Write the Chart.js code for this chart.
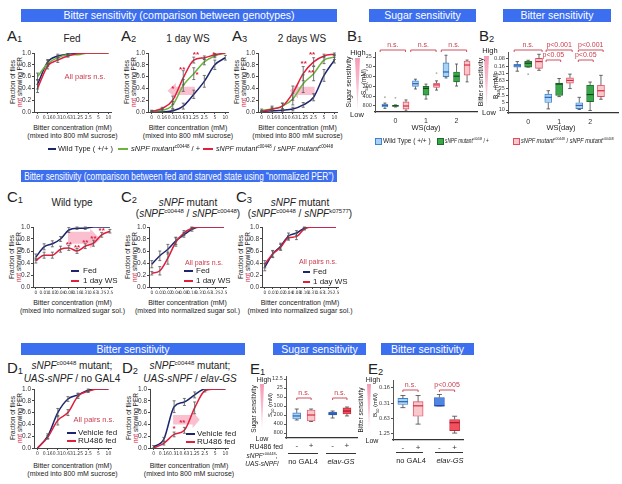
<!DOCTYPE html>
<html>
<head>
<meta charset="utf-8">
<script src="https://cdn.jsdelivr.net/npm/chart.js@4.4.1/dist/chart.umd.min.js"></script>
<style>
  body { margin: 0; width: 622px; height: 484px; position: relative; overflow: hidden; background: #fff;
         font-family: "Liberation Sans", Arial, sans-serif; }
  .t { position: absolute; white-space: nowrap; color: #222; line-height: 1; }
  .hd { position: absolute; background: #3c6ef0; color: #fff; font-size: 10.5px; overflow: hidden; white-space: nowrap; }
  .hd span { position: absolute; left: 50%; top: 0; white-space: nowrap; }
  canvas { position: absolute; }
  sup { font-size: 60%; vertical-align: super; line-height: 0; }
  sub { font-size: 65%; vertical-align: sub; line-height: 0; }
  .pl sub { font-size: 62%; vertical-align: -0.15em; }
</style>
</head>
<body>
<script>
// ---------- data ----------
const bitterConc = ['0', '0.16', '0.31', '0.63', '1.25', '2.5', '5', '10'];
const normConc = ['0', '0.01', '0.02', '0.04', '0.08', '0.16', '0.31', '0.63', '1.25', '2.5'];

// A1 fed
const a1Wt = [0.47, 0.85, 0.95, 0.98, 0.99, 1, 1, 1];
const a1WtErr = [0.08, 0.04, 0.03, 0.01, 0, 0, 0, 0];
const a1Het = [0.6, 0.82, 0.92, 0.97, 0.97, 1, 1, 1];
const a1HetErr = [0.06, 0.05, 0.03, 0.02, 0, 0, 0, 0];
const a1Hom = [0.4, 0.78, 0.88, 0.95, 0.99, 1, 1, 1];
const a1HomErr = [0.07, 0.05, 0.04, 0.02, 0, 0, 0, 0];
// A2 1 day WS
const a2Wt = [0, 0, 0.02, 0.1, 0.3, 0.52, 0.8, 0.92];
const a2WtErr = [0, 0, 0.02, 0.05, 0.07, 0.1, 0.08, 0.04];
const a2Het = [0.02, 0.03, 0.12, 0.45, 0.65, 0.85, 0.95, 1];
const a2HetErr = [0.01, 0.02, 0.06, 0.1, 0.1, 0.05, 0.03, 0];
const a2Hom = [0.01, 0.06, 0.2, 0.58, 0.88, 0.92, 0.97, 1];
const a2HomErr = [0.01, 0.02, 0.07, 0.12, 0.05, 0.03, 0.02, 0];
// A3 2 days WS
const a3Wt = [0.01, 0.02, 0.03, 0.05, 0.12, 0.25, 0.62, 0.88];
const a3WtErr = [0.01, 0.02, 0.02, 0.03, 0.04, 0.06, 0.1, 0.05];
const a3Het = [0.03, 0.05, 0.1, 0.22, 0.48, 0.65, 0.88, 0.93];
const a3HetErr = [0.02, 0.05, 0.05, 0.1, 0.15, 0.12, 0.06, 0.04];
const a3Hom = [0.01, 0.05, 0.1, 0.32, 0.65, 0.85, 0.95, 0.98];
const a3HomErr = [0.01, 0.03, 0.05, 0.12, 0.12, 0.07, 0.03, 0.02];

// C normalized PER, fed vs 1 day WS
const c1Fed = [0.5, 0.67, 0.72, 0.8, 0.95, 0.98, 0.98, 1, 1, 1];
const c1FedErr = [0.05, 0.05, 0.05, 0.04, 0.04, 0.02, 0.02, 0, 0, 0];
const c1Ws = [0.44, 0.53, 0.53, 0.63, 0.65, 0.6, 0.68, 0.73, 0.87, 0.93];
const c1WsErr = [0.04, 0.05, 0.05, 0.05, 0.04, 0.04, 0.04, 0.05, 0.04, 0.03];
const c2Fed = [0.38, 0.52, 0.63, 0.77, 0.87, 0.96, 1, 1, 1, 1];
const c2FedErr = [0.06, 0.08, 0.08, 0.06, 0.04, 0.03, 0, 0, 0, 0];
const c2Ws = [0.23, 0.27, 0.48, 0.75, 0.9, 0.98, 1, 1, 1, 1];
const c2WsErr = [0.03, 0.07, 0.1, 0.07, 0.04, 0.02, 0, 0, 0, 0];
const c3Fed = [0.33, 0.55, 0.68, 0.85, 0.9, 0.98, 1, 1, 1, 1];
const c3FedErr = [0.06, 0.06, 0.05, 0.05, 0.04, 0.02, 0, 0, 0, 0];
const c3Ws = [0.38, 0.55, 0.66, 0.82, 0.84, 0.97, 1, 1, 1, 1];
const c3WsErr = [0.06, 0.05, 0.05, 0.04, 0.05, 0.02, 0, 0, 0, 0];

// D vehicle vs RU486
const d1Veh = [0, 0.2, 0.6, 0.83, 0.9, 0.98, 1, 1];
const d1VehErr = [0, 0.04, 0.07, 0.04, 0.03, 0.02, 0, 0];
const d1Ru = [0, 0.18, 0.47, 0.6, 0.88, 0.96, 1, 1];
const d1RuErr = [0, 0.03, 0.08, 0.05, 0.04, 0.02, 0, 0];
const d2Veh = [0.02, 0.15, 0.7, 0.78, 0.9, 1, 1, 1];
const d2VehErr = [0.02, 0.03, 0.1, 0.06, 0.05, 0, 0, 0];
const d2Ru = [0, 0.08, 0.23, 0.3, 0.68, 0.97, 1, 1];
const d2RuErr = [0, 0.03, 0.04, 0.05, 0.1, 0.02, 0, 0];

// B boxes: [lower whisker, q1, median, q3, upper whisker]
const wsDays = ['0', '1', '2'];
const b1Wt = [[650, 700, 780, 860, 950], [120, 135, 165, 200, 240], [22, 38, 72, 100, 110]];
const b1Het = [[740, 760, 790, 830, 860], [170, 200, 230, 370, 490], [41, 72, 97, 145, 195]];
const b1Hom = [[520, 600, 800, 1000, 1140], [135, 160, 180, 215, 260], [31, 33, 44, 90, 145]];
const b1WtOut = [[0, 430]];
const b1HetOut = [[0, 450]];
const b1HomOut = [[1, 78]];
const s50Ticks = [25, 50, 100, 200, 400, 800];
const b2Wt = [[0.1, 0.13, 0.15, 0.17, 0.25], [1.6, 2.2, 3.0, 4.9, 9], [3.0, 5, 6.5, 8.8, 9.5]];
const b2Het = [[0.088, 0.097, 0.117, 0.17, 0.17], [0.5, 0.78, 0.85, 2.5, 2.8], [0.7, 0.95, 2.3, 4.5, 10.5]];
const b2Hom = [[0.05, 0.074, 0.1, 0.19, 0.23], [0.33, 0.47, 0.6, 0.78, 1.3], [0.37, 0.95, 1.6, 2.8, 3.6]];
const b2HetOut = [[0, 0.33]];
const b50Ticks = [0.078, 0.156, 0.3125, 0.625, 1.25, 2.5, 5, 10];
const b50Labels = ['0.08', '0.16', '0.31', '0.63', '1.25', '2.5', '5', '10'];

// E boxes: no GAL4 -, no GAL4 +, elav-GS -, elav-GS +
const ruFed = ['-', '+', '-', '+'];
const e1Boxes = [[126, 170, 215, 272, 294], [126, 136, 200, 318, 330], [147, 160, 185, 200, 252], [108, 116, 147, 185, 215]];
const e1Ticks = [12.5, 25, 50, 100, 200, 400, 800];
const e2Boxes = [[0.22, 0.25, 0.29, 0.33, 0.38], [0.22, 0.29, 0.35, 0.56, 0.8], [0.21, 0.24, 0.35, 0.35, 0.35], [0.56, 0.65, 0.75, 1.07, 1.2]];
const e2Ticks = [0.156, 0.3125, 0.625, 1.25];
const e2Labels = ['0.16', '0.31', '0.63', '1.25'];

// ---------- styles ----------
const NAVY = '#1e2570', GREEN = '#6cb33c', RED = '#e01f3d', SIG = '#c8404f';
const PINK = 'rgba(245,140,168,0.55)';
const LBLUE = '#a9d3f4', LBLUE_L = '#3f80d0', GRN = '#3aa84a', GRN_L = '#1d6b2a', LPINK = '#f9c8cc', LPINK_L = '#e44b5e';
const BLUE = '#4f86e6', BLUE_L = '#2b5cb8', RED2 = '#f2505f', RED2_L = '#c8283a';
const NARROW = '"Liberation Sans Narrow", "DejaVu Sans Condensed", "Liberation Sans", sans-serif';

Chart.defaults.font.family = '"Liberation Sans", Arial, sans-serif';
Chart.defaults.color = '#333';

// ---------- html helpers ----------
function P(x, y, html, size, o = {}) {
  const d = document.createElement('div');
  d.className = 't' + (o.cls ? ' ' + o.cls : '');
  d.innerHTML = html;
  d.style.fontSize = size + 'px';
  if (o.color) d.style.color = o.color;
  if (o.it) d.style.fontStyle = 'italic';
  d.style.left = x + 'px'; d.style.top = y + 'px';
  document.body.appendChild(d);
  if (o.rot) {
    d.style.transform = 'translate(-50%,-50%) rotate(-90deg)';
    return d;
  }
  const a = o.a || 'c';
  const sx = o.w ? o.w / d.offsetWidth : 1;
  d.style.transformOrigin = a === 'c' ? '50% 50%' : a === 'r' ? '100% 50%' : '0 50%';
  d.style.transform = `translate(${a === 'c' ? '-50%' : a === 'r' ? '-100%' : '0'},-50%) scaleX(${sx})`;
  return d;
}
function BAR(x1, x2, y1, y2, text) {
  const d = document.createElement('div');
  d.className = 'hd';
  Object.assign(d.style, { left: x1 + 'px', top: y1 + 'px', width: (x2 - x1) + 'px', height: (y2 - y1) + 'px', lineHeight: (y2 - y1) + 'px' });
  const s = document.createElement('span');
  s.textContent = text;
  d.appendChild(s);
  document.body.appendChild(d);
  const room = x2 - x1 - 6;
  const k = Math.min(1, room / s.offsetWidth);
  s.style.transform = `translateX(-50%) scaleX(${k})`;
}
function LN(x1, x2, y, color, w = 2) {
  const d = document.createElement('div');
  Object.assign(d.style, { position: 'absolute', left: x1 + 'px', top: (y - w / 2) + 'px', width: (x2 - x1) + 'px', height: w + 'px', background: color });
  document.body.appendChild(d);
}
function SQ(x, y, fill, line) {
  const d = document.createElement('div');
  Object.assign(d.style, { position: 'absolute', left: x + 'px', top: (y - 3.5) + 'px', width: '5px', height: '5px', background: fill, border: '1px solid ' + line });
  document.body.appendChild(d);
}
function WEDGE(x, y, w, h) {
  const d = document.createElement('div');
  Object.assign(d.style, { position: 'absolute', left: x + 'px', top: y + 'px', width: w + 'px', height: h + 'px',
    background: 'linear-gradient(#f59ab4, #fde4ec)', clipPath: 'polygon(0 0,100% 0,50% 100%)' });
  document.body.appendChild(d);
}
function canvasAt(x, y, w, h) {
  const c = document.createElement('canvas');
  c.width = w; c.height = h;
  c.style.left = x + 'px'; c.style.top = y + 'px';
  document.body.appendChild(c);
  return c;
}

// ---------- plugins ----------
function extras(ex) {
  return {
    id: 'extras',
    beforeDatasetsDraw(chart) {
      const { ctx, scales: { x, y } } = chart;
      (ex.shapes || []).forEach(pts => {
        ctx.save();
        ctx.fillStyle = PINK;
        ctx.beginPath();
        pts.forEach(([a, b], i) => {
          const px = x.getPixelForValue(a), py = y.getPixelForValue(b);
          if (i) ctx.lineTo(px, py); else ctx.moveTo(px, py);
        });
        ctx.closePath();
        ctx.fill();
        ctx.restore();
      });
    },
    afterDatasetsDraw(chart) {
      const { ctx, scales: { x, y } } = chart;
      ctx.save();
      ctx.strokeStyle = '#555';
      ctx.lineWidth = 0.8;
      chart.data.datasets.forEach(ds => {
        (ds.err || []).forEach((e, i) => {
          if (!e) return;
          const v = ds.data[i].y, px = x.getPixelForValue(i);
          const y1 = y.getPixelForValue(v + e), y2 = y.getPixelForValue(Math.max(0, v - e));
          ctx.beginPath();
          ctx.moveTo(px, y1); ctx.lineTo(px, y2);
          ctx.moveTo(px - 1.5, y1); ctx.lineTo(px + 1.5, y1);
          ctx.moveTo(px - 1.5, y2); ctx.lineTo(px + 1.5, y2);
          ctx.stroke();
        });
      });
      ctx.fillStyle = RED;
      ctx.font = 'bold 8px "Liberation Sans", Arial, sans-serif';
      ctx.textAlign = 'center';
      ctx.textBaseline = 'middle';
      (ex.stars || []).forEach(([a, b, s]) => ctx.fillText(s, x.getPixelForValue(a), y.getPixelForValue(b)));
      ctx.restore();
    }
  };
}
function boxPlugin(brackets) {
  return {
    id: 'boxes',
    afterDatasetsDraw(chart) {
      const { ctx, scales: { x, y }, chartArea } = chart;
      const py = v => y.getPixelForValue(v);
      ctx.save();
      chart.data.datasets.forEach((ds, di) => {
        chart.getDatasetMeta(di).data.forEach((el, i) => {
          const q = ds.box[i], w = el.width, cx = el.x;
          ctx.strokeStyle = '#444';
          ctx.lineWidth = 0.8;
          ctx.beginPath();
          ctx.moveTo(cx, py(q[0])); ctx.lineTo(cx, py(q[1]));
          ctx.moveTo(cx, py(q[3])); ctx.lineTo(cx, py(q[4]));
          ctx.moveTo(cx - w * 0.25, py(q[0])); ctx.lineTo(cx + w * 0.25, py(q[0]));
          ctx.moveTo(cx - w * 0.25, py(q[4])); ctx.lineTo(cx + w * 0.25, py(q[4]));
          ctx.stroke();
          ctx.strokeStyle = Array.isArray(ds.med) ? ds.med[i] : ds.med;
          ctx.lineWidth = 1.2;
          ctx.beginPath();
          ctx.moveTo(cx - w / 2, py(q[2])); ctx.lineTo(cx + w / 2, py(q[2]));
          ctx.stroke();
        });
        ctx.fillStyle = '#aaa';
        (ds.out || []).forEach(([xv, v]) => {
          ctx.beginPath();
          ctx.arc(x.getPixelForValue(xv), py(v), 0.9, 0, 7);
          ctx.fill();
        });
      });
      ctx.strokeStyle = SIG;
      ctx.fillStyle = SIG;
      ctx.lineWidth = 0.9;
      ctx.font = '7px "Liberation Sans", Arial, sans-serif';
      ctx.textAlign = 'center';
      ctx.textBaseline = 'bottom';
      brackets.forEach(bk => {
        const x1 = x.getPixelForValue(bk.x1), x2 = x.getPixelForValue(bk.x2), yy = chartArea.top + bk.dy;
        ctx.beginPath();
        ctx.moveTo(x1, yy + 2); ctx.lineTo(x1, yy); ctx.lineTo(x2, yy); ctx.lineTo(x2, yy + 2);
        ctx.stroke();
        ctx.fillText(bk.t, (x1 + x2) / 2, yy - 1);
      });
      ctx.restore();
    }
  };
}

// ---------- chart builders ----------
function lineChart(box, labels, series, ex) {
  const [l, t, r, b] = box;
  const YW = 16, PT = 7, PR = 6, XH = 10;
  const c = canvasAt(l - YW, t - PT, r - l + YW + PR, b - t + PT + XH);
  new Chart(c, {
    type: 'line',
    data: {
      datasets: series.map(s => ({
        data: s.v.map((v, i) => ({ x: i, y: v })), err: s.e,
        borderColor: s.c, borderWidth: 1.5, pointRadius: 0,
        cubicInterpolationMode: 'monotone', fill: false
      }))
    },
    options: {
      responsive: false, animation: false,
      layout: { padding: { top: PT, right: PR, left: 0, bottom: 0 } },
      plugins: { legend: { display: false }, tooltip: { enabled: false } },
      scales: {
        x: {
          type: 'linear', min: -0.35, max: labels.length - 0.75,
          afterBuildTicks: s => { s.ticks = labels.map((_, i) => ({ value: i })); },
          afterFit: s => { s.height = XH; },
          ticks: { callback: v => labels[v], font: { size: labels.length > 8 ? 4.6 : 5, family: NARROW }, padding: 1, maxRotation: 0, autoSkip: false },
          grid: { drawOnChartArea: false, tickLength: 2, color: '#444' },
          border: { color: '#444' }
        },
        y: {
          min: 0, max: 1,
          afterBuildTicks: s => { s.ticks = [0, 0.2, 0.4, 0.6, 0.8, 1].map(v => ({ value: v })); },
          afterFit: s => { s.width = YW; },
          ticks: { callback: v => v.toFixed(1), font: { size: 6.5 }, padding: 1 },
          grid: { drawOnChartArea: false, tickLength: 2, color: '#444' },
          border: { color: '#444' }
        }
      }
    },
    plugins: [extras(ex || {})]
  });
}

function boxChart(box, o) {
  const [l, t, r, b] = box;
  const YW = 20, PT = 14, PR = 4, XH = o.xh;
  const c = canvasAt(l - YW, t - PT, r - l + YW + PR, b - t + PT + XH);
  new Chart(c, {
    type: 'bar',
    data: {
      datasets: o.sets.map(s => ({
        data: s.b.map((q, i) => ({ x: s.x[i], y: [q[1], q[3]] })),
        box: s.b, out: s.out || [], med: s.med,
        backgroundColor: s.fill, borderColor: s.line, borderWidth: 0.9, borderSkipped: false,
        barThickness: o.bw, grouped: false
      }))
    },
    options: {
      responsive: false, animation: false,
      layout: { padding: { top: PT, right: PR, left: 0, bottom: 0 } },
      plugins: { legend: { display: false }, tooltip: { enabled: false } },
      scales: {
        x: {
          type: 'linear', offset: false, min: o.xmin, max: o.xmax,
          afterBuildTicks: s => { s.ticks = o.xt.map(v => ({ value: v })); },
          afterFit: s => { s.height = XH; },
          ticks: { callback: (v, i) => o.xl[i], font: { size: o.xfs }, padding: o.xpad, maxRotation: 0, autoSkip: false },
          grid: { drawOnChartArea: false, drawTicks: false },
          border: { color: '#333', width: 1.2 }
        },
        y: {
          type: 'logarithmic', reverse: true, min: o.ymin, max: o.ymax,
          afterBuildTicks: s => { s.ticks = o.yt.map(v => ({ value: v })); },
          afterFit: s => { s.width = YW; },
          ticks: { callback: (v, i) => o.yl[i], font: { size: 5.5, family: NARROW }, padding: 1, autoSkip: false },
          grid: { drawOnChartArea: false, tickLength: 2, color: '#555' },
          border: { color: '#555' }
        }
      }
    },
    plugins: [boxPlugin(o.br || [])]
  });
}

// ---------- headers ----------
BAR(21, 337, 9, 22, 'Bitter sensitivity (comparison between genotypes)');
BAR(369, 476, 9, 22, 'Sugar sensitivity');
BAR(503, 611, 9, 22, 'Bitter sensitivity');
BAR(21, 337, 170, 182, 'Bitter sensitivity (comparison between fed and starved state using \u201cnormalized PER\u201d)');
BAR(21, 245, 343, 355, 'Bitter sensitivity');
BAR(273, 366, 343, 355, 'Sugar sensitivity');
BAR(381, 474, 343, 355, 'Bitter sensitivity');

// panel labels
[['A', 1, 7, 35], ['A', 2, 121, 35], ['A', 3, 232, 35], ['B', 1, 347, 35], ['B', 2, 479, 35],
 ['C', 1, 7, 196], ['C', 2, 121, 196], ['C', 3, 236, 196],
 ['D', 1, 7, 367], ['D', 2, 122, 367], ['E', 1, 250, 368], ['E', 2, 368, 368]]
  .forEach(([a, n, x, y]) => P(x, y, a + '<sub>' + n + '</sub>', 15, { a: 'l', cls: 'pl' }));

const NOT = '<span style="color:#d0213a">not</span> showing PER';
function yTitle(l, cy) {
  P(l - 21, cy, 'Fraction of flies', 6.5, { rot: 1 });
  P(l - 14.5, cy, NOT, 6.5, { rot: 1 });
}
function xTitle(l, r, y, second) {
  P((l + r) / 2, y, 'Bitter concentration (mM)', 7);
  P((l + r) / 2, y + 7.5, second, 7);
}

// ---------- A ----------
P(72, 39, 'Fed', 10);
P(188, 39, '1 day WS', 10);
P(302, 39, '2 days WS', 10);
[[34, 111], [148, 228], [258, 337]].forEach(([l, r]) => {
  yTitle(l, 82);
  xTitle(l, r, 127, '(mixed into 800 mM sucrose)');
});
lineChart([34, 53, 111, 112], bitterConc, [
  { v: a1Hom, e: a1HomErr, c: RED }, { v: a1Het, e: a1HetErr, c: GREEN }, { v: a1Wt, e: a1WtErr, c: NAVY }]);
lineChart([148, 53, 228, 112], bitterConc, [
  { v: a2Hom, e: a2HomErr, c: RED }, { v: a2Het, e: a2HetErr, c: GREEN }, { v: a2Wt, e: a2WtErr, c: NAVY }], {
  shapes: [[[1.5, 0.36], [2.3, 0.49], [2.3, 0.43], [4.1, 0.43], [4.1, 0.29], [2.3, 0.29], [2.3, 0.23]]],
  stars: [[4.2, 0.97, '**'], [5.9, 0.97, '*'], [2.9, 0.72, '**'], [2.0, 0.4, '*'], [4.3, 0.63, '*']]
});
lineChart([258, 53, 337, 112], bitterConc, [
  { v: a3Hom, e: a3HomErr, c: RED }, { v: a3Het, e: a3HetErr, c: GREEN }, { v: a3Wt, e: a3WtErr, c: NAVY }], {
  shapes: [[[2.7, 0.36], [3.5, 0.49], [3.5, 0.43], [5.1, 0.43], [5.1, 0.29], [3.5, 0.29], [3.5, 0.23]]],
  stars: [[4.85, 0.97, '**'], [4.05, 0.81, '**'], [4.75, 0.66, '**']]
});
P(85, 77, 'All pairs n.s.', 7.5, { color: SIG });
LN(48, 56, 149, NAVY); P(58, 149, 'Wild Type ( +/+ )', 7.5, { a: 'l' });
LN(118, 128, 149, GREEN); P(131, 149, '<i>sNPF mutant</i><sup>c00448</sup> / +', 7.5, { a: 'l' });
LN(203, 213, 149, RED); P(216, 149, '<i>sNPF mutant</i><sup>c00448</sup> / <i>sNPF mutant</i><sup>c00448</sup>', 7.5, { a: 'l', w: 117 });

// ---------- B ----------
const b1Off = 0.345, b2Off = 0.35;
boxChart([375, 52, 477, 112], {
  xh: 14, xfs: 7, xpad: 5, bw: 6,
  xmin: -0.67, xmax: 2.67, xt: [0, 1, 2], xl: wsDays,
  ymin: 17.5, ymax: 1224, yt: s50Ticks, yl: s50Ticks.map(String),
  sets: [
    { b: b1Wt, x: wsDays.map((_, i) => i - b1Off), out: b1WtOut.map(([c, v]) => [c - b1Off, v]), fill: LBLUE, line: LBLUE_L, med: '#2d62b0' },
    { b: b1Het, x: wsDays.map((_, i) => i), out: b1HetOut, fill: GRN, line: GRN_L, med: '#0f4a1a' },
    { b: b1Hom, x: wsDays.map((_, i) => i + b1Off), out: b1HomOut.map(([c, v]) => [c + b1Off, v]), fill: LPINK, line: LPINK_L, med: '#d42a40' }
  ],
  br: wsDays.map((_, i) => ({ x1: i - 0.5, x2: i + 0.33, dy: -2, t: 'n.s.' }))
});
boxChart([508, 52, 618, 113], {
  xh: 14, xfs: 7, xpad: 5, bw: 7,
  xmin: -0.65, xmax: 2.9, xt: [0, 1, 2], xl: wsDays,
  ymin: 0.0402, ymax: 13.3, yt: b50Ticks, yl: b50Labels,
  sets: [
    { b: b2Wt, x: wsDays.map((_, i) => i - b2Off), fill: LBLUE, line: LBLUE_L, med: '#2d62b0' },
    { b: b2Het, x: wsDays.map((_, i) => i), out: b2HetOut, fill: GRN, line: GRN_L, med: '#0f4a1a' },
    { b: b2Hom, x: wsDays.map((_, i) => i + b2Off), fill: LPINK, line: LPINK_L, med: '#d42a40' }
  ],
  br: [
    { x1: -0.45, x2: 0.45, dy: -2, t: 'n.s.' },
    { x1: 0.58, x2: 1.42, dy: -2, t: 'p<0.001' }, { x1: 0.58, x2: 1.05, dy: 8, t: 'p<0.05' },
    { x1: 1.62, x2: 2.42, dy: -2, t: 'p<0.001' }, { x1: 1.62, x2: 2.1, dy: 8, t: 'p<0.05' }
  ]
});
P(358, 53, 'High', 7.5); P(357, 115, 'Low', 7.5); WEDGE(355, 58, 5, 52);
P(348, 82, 'Sugar sensitivity', 7, { rot: 1 });
P(364, 82, 'S<sub>50</sub> (mM)', 6.5, { rot: 1 });
P(490, 51, 'High', 7.5); P(489, 113, 'Low', 7.5); WEDGE(484, 56, 5, 52);
P(480, 82, 'Bitter sensitivity', 7, { rot: 1 });
P(496, 86, 'B<sub>50</sub> (mM)', 6.5, { rot: 1 });
P(426, 128, 'WS(day)', 7.5);
P(561, 128, 'WS(day)', 7.5);
SQ(375, 141, LBLUE, LBLUE_L); P(383, 141, 'Wild Type ( +/+ )', 6.5, { a: 'l' });
SQ(437, 141, GRN, GRN_L); P(445, 141, '<i>sNPF mutant</i><sup>c00448</sup> / +', 6.5, { a: 'l', w: 44 });
SQ(513, 141, LPINK, LPINK_L); P(521, 141, '<i>sNPF mutant</i><sup>c00448</sup> / <i>sNPF mutant</i><sup>c00448</sup>', 6.5, { a: 'l', w: 93 });

// ---------- C ----------
P(72, 203, 'Wild type', 10);
P(188, 203, '<i>sNPF</i> mutant', 10);
P(188, 214, '(<i>sNPF</i><sup>c00448</sup> / <i>sNPF</i><sup>c00448</sup>)', 10);
P(300, 203, '<i>sNPF</i> mutant', 10);
P(300, 214, '(<i>sNPF</i><sup>c00448</sup> / <i>sNPF</i><sup>k07577</sup>)', 10);
[[33, 112], [149, 226], [262, 338]].forEach(([l, r]) => {
  yTitle(l, 257);
  xTitle(l, r, 302, '(mixed into normalized sugar sol.)');
});
lineChart([33, 227, 112, 287], normConc, [
  { v: c1Ws, e: c1WsErr, c: RED }, { v: c1Fed, e: c1FedErr, c: NAVY }], {
  shapes: [[[3.9, 0.92], [6.6, 0.92], [6.6, 0.97], [7.8, 0.8], [6.6, 0.64], [6.6, 0.72], [3.9, 0.72]]],
  stars: [[4, 0.71, '**'], [5, 0.66, '**'], [6, 0.74, '**'], [7, 0.8, '**'], [8, 0.93, '**']]
});
lineChart([149, 227, 226, 287], normConc, [
  { v: c2Ws, e: c2WsErr, c: RED }, { v: c2Fed, e: c2FedErr, c: NAVY }]);
lineChart([262, 227, 338, 287], normConc, [
  { v: c3Ws, e: c3WsErr, c: RED }, { v: c3Fed, e: c3FedErr, c: NAVY }]);
LN(71, 79, 271, NAVY); P(83, 271, 'Fed', 8, { a: 'l' });
LN(71, 79, 281, RED); P(83, 281, '1 day WS', 8, { a: 'l' });
P(204, 262, 'All pairs n.s.', 7, { color: SIG });
LN(184, 193, 271, NAVY); P(196, 271, 'Fed', 8, { a: 'l' });
LN(184, 193, 281, RED); P(196, 281, '1 day WS', 8, { a: 'l' });
P(318, 261, 'All pairs n.s.', 7, { color: SIG });
LN(303, 310, 272, NAVY); P(313, 272, 'Fed', 8, { a: 'l' });
LN(303, 310, 282, RED); P(313, 282, '1 day WS', 8, { a: 'l' });

// ---------- D ----------
P(72, 366, '<i>sNPF</i><sup>c00448</sup> mutant;', 10);
P(72, 379, '<i>UAS-sNPF</i> / no GAL4', 10);
P(190, 366, '<i>sNPF</i><sup>c00448</sup> mutant;', 10);
P(190, 379, '<i>UAS-sNPF</i> / <i>elav-GS</i>', 10);
[[34, 111], [150, 228]].forEach(([l, r]) => {
  yTitle(l, 418);
  xTitle(l, r, 465, '(mixed into 800 mM sucrose)');
});
lineChart([34, 389, 111, 448], bitterConc, [
  { v: d1Ru, e: d1RuErr, c: RED }, { v: d1Veh, e: d1VehErr, c: NAVY }]);
lineChart([150, 389, 228, 448], bitterConc, [
  { v: d2Ru, e: d2RuErr, c: RED }, { v: d2Veh, e: d2VehErr, c: NAVY }], {
  shapes: [[[1.9, 0.56], [3.8, 0.56], [3.8, 0.62], [4.5, 0.48], [3.8, 0.34], [3.8, 0.4], [1.9, 0.4]]],
  stars: [[2.0, 0.33, '*'], [2.8, 0.42, '**']]
});
P(94, 420, 'All pairs n.s.', 7.5, { color: SIG });
LN(67, 76, 433, NAVY); P(78, 433, 'Vehicle fed', 8, { a: 'l' });
LN(67, 76, 441, RED); P(78, 441, 'RU486 fed', 8, { a: 'l' });
LN(186, 195, 434, NAVY); P(197, 434, 'Vehicle fed', 8, { a: 'l' });
LN(186, 195, 442, RED); P(197, 442, 'RU486 fed', 8, { a: 'l' });

// ---------- E ----------
const e1X = [0, 1, 2.5, 3.5], e2X = [0, 1, 2.4, 3.4];
boxChart([286, 376, 357, 438], {
  xh: 12, xfs: 8, xpad: 3, bw: 8,
  xmin: -0.75, xmax: 4.2, xt: e1X, xl: ruFed,
  ymin: 9.92, ymax: 1174, yt: e1Ticks, yl: e1Ticks.map(String),
  sets: [{ b: e1Boxes, x: e1X, fill: [LBLUE, LPINK, BLUE, RED2], line: [LBLUE_L, LPINK_L, BLUE_L, RED2_L], med: ['#2d62b0', '#d42a40', '#1d4aa0', '#a01828'] }],
  br: [{ x1: 0, x2: 1, dy: 22, t: 'n.s.' }, { x1: 2.5, x2: 3.5, dy: 22, t: 'n.s.' }]
});
boxChart([393, 380, 463, 440], {
  xh: 12, xfs: 8, xpad: 3, bw: 10,
  xmin: -0.65, xmax: 3.95, xt: e2X, xl: ruFed,
  ymin: 0.109, ymax: 1.64, yt: e2Ticks, yl: e2Labels,
  sets: [{ b: e2Boxes, x: e2X, fill: [LBLUE, LPINK, BLUE, RED2], line: [LBLUE_L, LPINK_L, BLUE_L, RED2_L], med: ['#2d62b0', '#d42a40', '#1d4aa0', '#a01828'] }],
  br: [{ x1: 0, x2: 1, dy: 10, t: 'n.s.' }, { x1: 2.4, x2: 3.4, dy: 10, t: 'p<0.005' }]
});
P(264, 379, 'High', 7); P(262, 438, 'Low', 7); WEDGE(260, 384, 4, 46);
P(254, 409, 'Sugar sensitivity', 6.5, { rot: 1 });
P(270, 405, 'S<sub>50</sub> (mM)', 6, { rot: 1 });
P(283, 446, 'RU486 fed', 7, { a: 'r' });
P(262, 456, '<i>sNPF</i><sup>c00448</sup>;', 6.5);
P(262, 464, '<i>UAS-sNPF</i>/', 6.5);
LN(288, 318, 453, '#333', 1); LN(326, 356, 453, '#333', 1);
P(303, 462, 'no GAL4', 7.5); P(341, 462, '<i>elav-GS</i>', 7.5);

P(373, 379, 'High', 7); P(372, 440, 'Low', 7); WEDGE(367, 384, 4, 47);
P(361, 410, 'Bitter sensitivity', 6.5, { rot: 1 });
P(375, 405, 'B<sub>50</sub> (mM)', 6, { rot: 1 });
LN(396, 423, 452, '#333', 1); LN(435, 463, 452, '#333', 1);
P(411, 461, 'no GAL4', 7.5); P(450, 461, '<i>elav-GS</i>', 7.5);
</script>
</body>
</html>
